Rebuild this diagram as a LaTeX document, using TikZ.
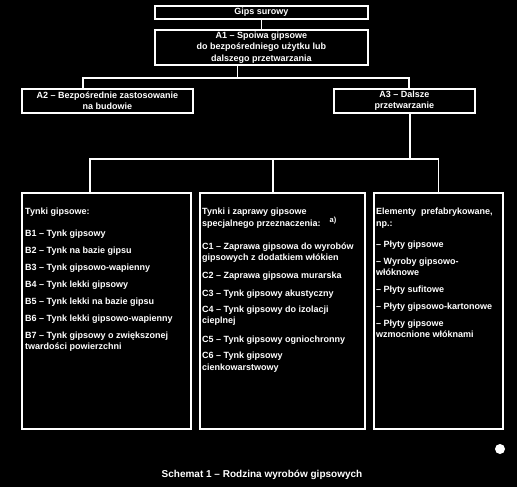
\documentclass[tikz,border=0pt]{standalone}
\usepackage{fontspec}
\setmainfont{Liberation Sans}
\usetikzlibrary{calc}

\tikzset{
	box/.style={draw=white, line width=1.7pt, inner sep=0pt, anchor=north west,
		text=white, align=center, font=\bfseries\fontsize{9}{11.5}\selectfont},
	lnk/.style={draw=white, line width=1.7pt},
	boxtext/.style={text=white, inner sep=0pt, anchor=north west, align=left,
		font=\bfseries\fontsize{9}{11.5}\selectfont},
}

\begin{document}
\begin{tikzpicture}
	\fill[black] (0,0) rectangle (517pt,-487pt);
	\useasboundingbox (0,0) rectangle (517pt,-487pt);
	% top row
	\node[box, minimum width=213pt, minimum height=13pt] (gips) at (154pt,-5pt) {Gips surowy};
	\node[box, minimum width=213pt, minimum height=35pt] (a1) at (154pt,-29pt)
		{A1 – Spoiwa gipsowe\\do bezpośredniego użytku lub\\dalszego przetwarzania};
	\node[box, minimum width=171pt, minimum height=24pt] (a2) at (21pt,-88pt)
		{A2 – Bezpośrednie zastosowanie\\na budowie};
	\node[box, minimum width=141pt, minimum height=24pt] (a3) at (333pt,-88pt)
		{A3 – Dalsze\\przetwarzanie};
	% lower boxes
	\node[box, minimum width=169pt, minimum height=236pt] (b) at (21pt,-192pt) {};
	\node[box, minimum width=165pt, minimum height=236pt] (c) at (199pt,-192pt) {};
	\node[box, minimum width=129pt, minimum height=236pt] (d) at (373pt,-192pt) {};
	\node[boxtext] (btext) at ($(b.north west)+(4pt,-16pt)$) {Tynki gipsowe:\\[10pt]
		B1 – Tynk gipsowy\\[5.5pt]
		B2 – Tynk na bazie gipsu\\[5.5pt]
		B3 – Tynk gipsowo-wapienny\\[5.5pt]
		B4 – Tynk lekki gipsowy\\[5.5pt]
		B5 – Tynk lekki na bazie gipsu\\[5.5pt]
		B6 – Tynk lekki gipsowo-wapienny\\[5.5pt]
		B7 – Tynk gipsowy o zwiększonej\\twardości powierzchni};
	\node[boxtext] (ctext) at ($(c.north west)+(3pt,-16pt)$) {Tynki i zaprawy gipsowe\\
		specjalnego przeznaczenia:\quad\raisebox{4pt}{\fontsize{7.5}{8}\selectfont a)}\\[11.5pt]
		C1 – Zaprawa gipsowa do wyrobów\\gipsowych z dodatkiem włókien\\[6.5pt]
		C2 – Zaprawa gipsowa murarska\\[6.5pt]
		C3 – Tynk gipsowy akustyczny\\[4pt]
		C4 – Tynk gipsowy do izolacji\\cieplnej\\[7pt]
		C5 – Tynk gipsowy ogniochronny\\[5pt]
		C6 – Tynk gipsowy\\cienkowarstwowy};
	\node[boxtext] (dtext) at ($(d.north west)+(3pt,-16pt)$) {Elementy\ \ prefabrykowane,\\
		np.:\\[10pt]
		– Płyty gipsowe\\[5pt]
		– Wyroby gipsowo-\\włóknowe\\[5pt]
		– Płyty sufitowe\\[6pt]
		– Płyty gipsowo-kartonowe\\[5pt]
		– Płyty gipsowe\\wzmocnione włóknami};
	% connectors
	\coordinate (j1) at ($(a1.south)+(-24pt,-12pt)$);
	\coordinate (a2in) at ($(a2.north)+(-24.5pt,0)$);
	\coordinate (a3in) at ($(a3.north)+(4.5pt,0)$);
	\coordinate (a3out) at ($(a3.south)+(5.5pt,0)$);
	\coordinate (j2) at ($(a3out)+(0,-45pt)$);
	\coordinate (bin) at ($(b.north)+(-16.5pt,0)$);
	\coordinate (cin) at ($(c.north)+(-9.5pt,0)$);
	\draw[lnk] (gips) -- (a1);
	\draw[lnk] (a1.south -| j1) -- (j1);
	\draw[lnk] (a2in) |- (j1) -| (a3in);
	\draw[lnk] (a3out) -- (j2);
	\draw[lnk] (bin) |- (j2) -| (d.north);
	\draw[lnk] (cin) -- (cin |- j2);
	% caption
	\node[text=white, font=\bfseries\fontsize{10}{12}\selectfont] (caption) at (262pt,-475pt)
		{Schemat 1 – Rodzina wyrobów gipsowych};
	\node[circle, fill=white, inner sep=0pt, minimum size=10pt] (logo) at (500pt,-449pt) {};
\end{tikzpicture}
\end{document}
